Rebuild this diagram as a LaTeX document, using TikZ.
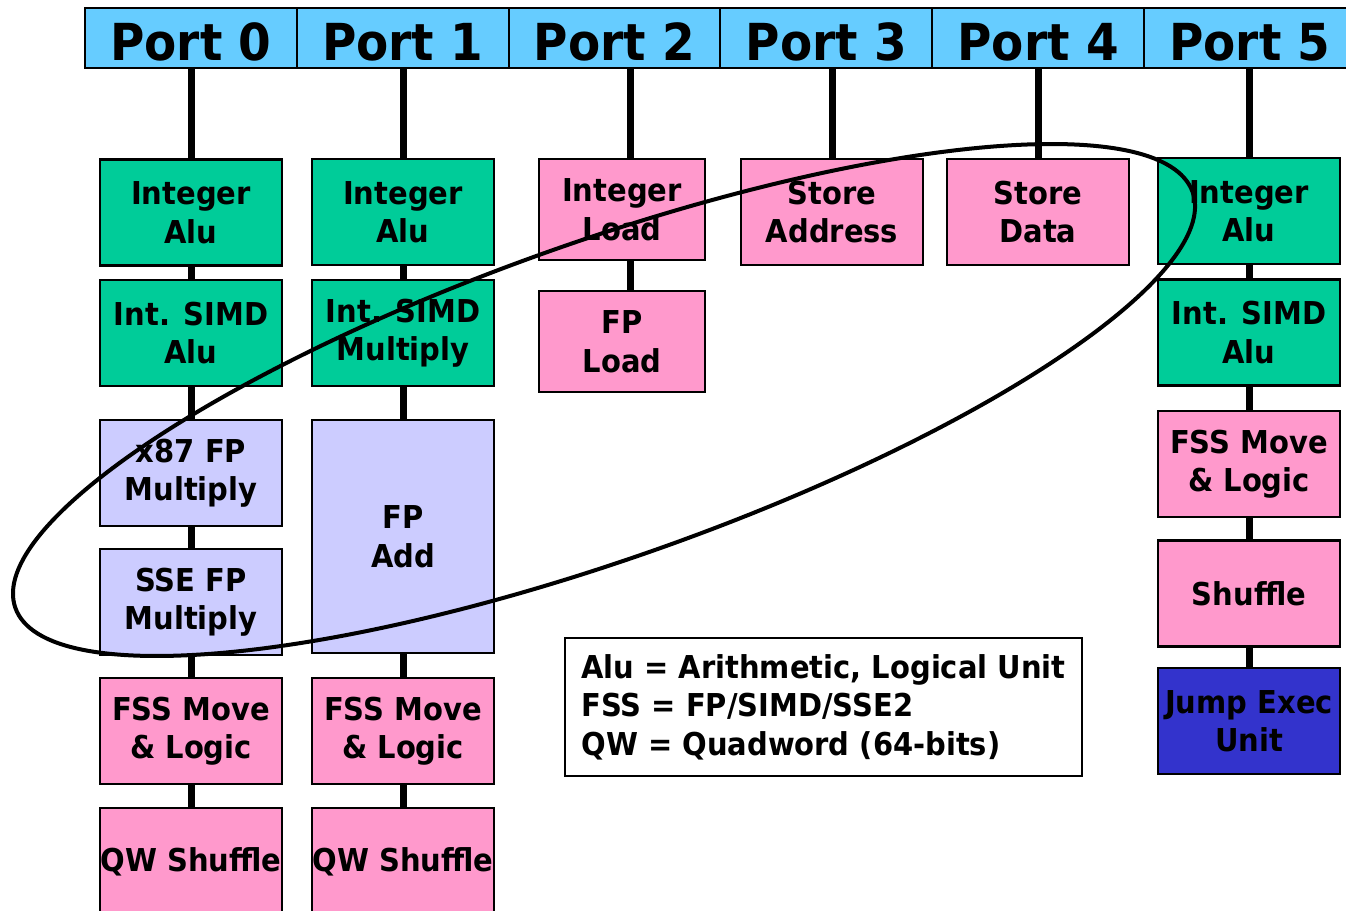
\documentclass[tikz,border=0pt]{standalone}
\usepackage{fontspec}
\setmainfont{DejaVu Sans}[FakeStretch=0.92]
\definecolor{portblue}{HTML}{66CCFF}
\definecolor{ugreen}{HTML}{00CC99}
\definecolor{upink}{HTML}{FF99CC}
\definecolor{ulav}{HTML}{CCCCFF}
\definecolor{ujump}{HTML}{3333CC}
\newcommand\boxfont{\fontsize{31.5}{38.5}\selectfont\bfseries}
\newcommand\portfont{\fontsize{51}{60}\selectfont\bfseries}
\begin{document}
\begin{tikzpicture}[x=1pt,y=-1pt,
  unit/.style={draw=black, line width=2.5pt, minimum width=182pt, minimum height=106pt,
    inner sep=0pt, align=center, font=\boxfont},
  green/.style={unit, fill=ugreen},
  pink/.style={unit, fill=upink},
  lav/.style={unit, fill=ulav},
  jump/.style={unit, fill=ujump},
  port/.style={draw=black, fill=portblue, line width=2pt, minimum width=211.8pt,
    minimum height=60pt, inner sep=0pt, text height=44pt, text depth=0pt, font=\portfont},
  conn/.style={line width=7pt},
  legend/.style={draw=black, line width=2pt, minimum width=517pt, inner sep=0pt,
    minimum height=138pt, align=left, font=\boxfont}]
\useasboundingbox (0,0) rectangle (1346,910);
% ports
\node[port] (p0) at (190.9,38) {Port 0};
\node[port] (p1) at (402.7,38) {Port 1};
\node[port] (p2) at (614.5,38) {Port 2};
\node[port] (p3) at (826.3,38) {Port 3};
\node[port] (p4) at (1038.1,38) {Port 4};
\node[port] (p5) at (1249.9,38) {Port 5};
% column 0
\node[green] (c0a) at (191,212.5) {Integer\\Alu};
\node[green] (c0b) at (191,333) {Int. SIMD\\Alu};
\node[lav] (c0c) at (191,473) {x87 FP\\Multiply};
\node[lav] (c0d) at (191,602) {SSE FP\\Multiply};
\node[pink] (c0e) at (191,731) {FSS Move\\\& Logic};
\node[pink, minimum height=108pt] (c0f) at (191,862) {QW Shuffle};
% column 1
\node[green] (c1a) at (403,212) {Integer\\Alu};
\node[green] (c1b) at (403,333) {Int. SIMD\\Multiply};
\node[lav, minimum height=233pt] (c1c) at (403,536.5) {FP\\Add};
\node[pink] (c1d) at (403,731) {FSS Move\\\& Logic};
\node[pink, minimum height=108pt] (c1e) at (403,862) {QW Shuffle};
% column 2
\node[pink, minimum width=166pt, minimum height=101pt] (c2a) at (622,209.5) {Integer\\Load};
\node[pink, minimum width=166pt, minimum height=101pt] (c2b) at (622,341.5) {FP\\Load};
% column 3, 4
\node[pink] (c3) at (832,212) {Store\\Address};
\node[pink] (c4) at (1038,212) {Store\\Data};
% column 5
\node[green] (c5a) at (1249,211) {Integer\\Alu};
\node[green] (c5b) at (1249,332.5) {Int. SIMD\\Alu};
\node[pink] (c5c) at (1249,464) {FSS Move\\\& Logic};
\node[pink] (c5d) at (1249,593.5) {Shuffle};
\node[jump] (c5e) at (1249,721) {Jump Exec\\Unit};
% legend
\node[legend] (leg) at (823.5,707) {Alu = Arithmetic, Logical Unit\\FSS = FP/SIMD/SSE2\\QW = Quadword (64-bits)};
% connectors
\draw[conn] (c0a.north |- p0.south) -- (c0a.north);
\draw[conn] (c0a.south) -- (c0b.north);
\draw[conn] (c0b.south) -- (c0c.north);
\draw[conn] (c0c.south) -- (c0d.north);
\draw[conn] (c0d.south) -- (c0e.north);
\draw[conn] (c0e.south) -- (c0f.north);
\draw[conn] (c1a.north |- p1.south) -- (c1a.north);
\draw[conn] (c1a.south) -- (c1b.north);
\draw[conn] (c1b.south) -- (c1c.north);
\draw[conn] (c1c.south) -- (c1d.north);
\draw[conn] (c1d.south) -- (c1e.north);
\draw[conn] ([xshift=8pt]c2a.north |- p2.south) -- ([xshift=8pt]c2a.north);
\draw[conn] ([xshift=8pt]c2a.south) -- ([xshift=8pt]c2b.north);
\draw[conn] (c3.north |- p3.south) -- (c3.north);
\draw[conn] (c4.north |- p4.south) -- (c4.north);
\draw[conn] (c5a.north |- p5.south) -- (c5a.north);
\draw[conn] (c5a.south) -- (c5b.north);
\draw[conn] (c5b.south) -- (c5c.north);
\draw[conn] (c5c.south) -- (c5d.north);
\draw[conn] (c5d.south) -- (c5e.north);
% ellipse
\draw[line width=4pt, rotate around={19.45:(604,400)}] (604,400) ellipse [x radius=624.3pt, y radius=158.4pt];
\end{tikzpicture}
\end{document}
